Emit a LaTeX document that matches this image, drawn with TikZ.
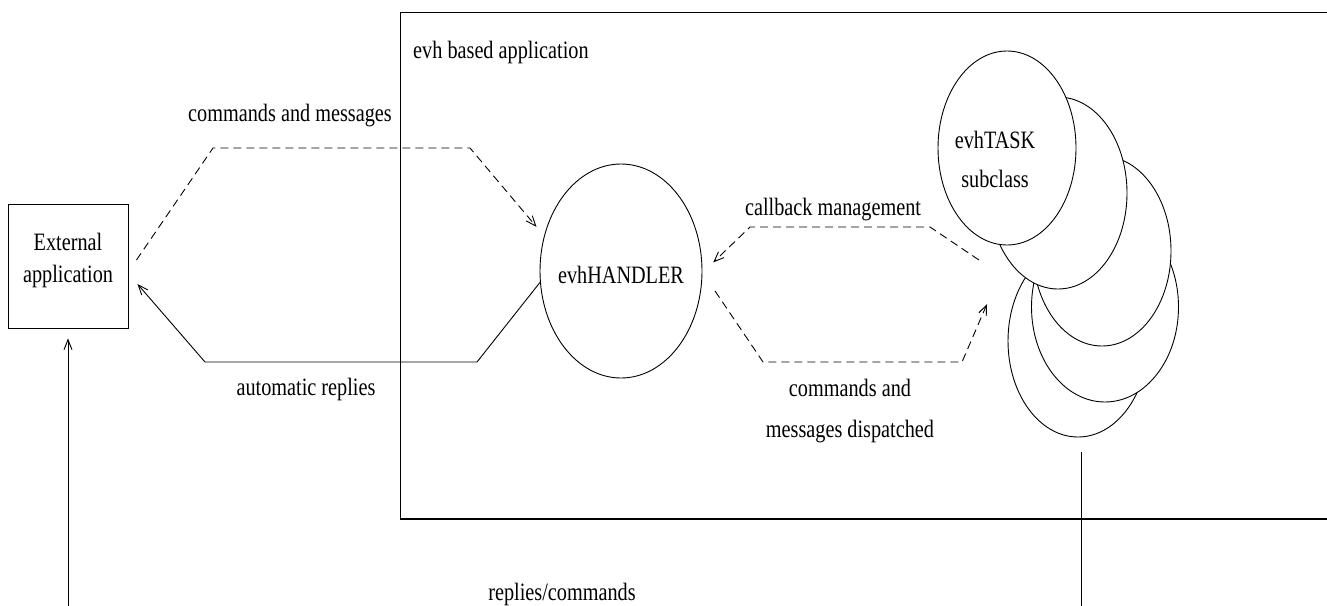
\documentclass[tikz,border=0pt]{standalone}
\usepackage{fontspec}
\setmainfont{Liberation Serif}[FakeStretch=0.81]
\usetikzlibrary{shapes.geometric,arrows.meta}

\begin{document}
\begin{tikzpicture}[x=1pt,y=-1pt,
  every node/.style={font=\fontsize{25}{30}\selectfont},
  lbl/.style={inner sep=0pt, anchor=base},
  wire/.style={line width=0.9pt, line join=miter},
  flow/.style={wire, dash pattern=on 8pt off 5pt},
  tip/.style={-{Straight Barb[length=10pt,width=8pt,line width=0.9pt]}},
  bubble/.style={ellipse, draw, fill=white, line width=0.9pt, inner sep=0pt},
  frame/.style={line width=0.9pt},
]
\useasboundingbox (0,0) rectangle (1327,605);
\clip (0,0) rectangle (1327,605);

% outer application boundary (open to the right)
\draw[frame] (1340,12) -- (400,12) -- (400,519);
\draw[frame, line width=1.6pt] (400,519) -- (1340,519);
\node[lbl, anchor=base west] (applbl) at (413,58) {evh based application};

% external application
\node[draw, line width=0.9pt, minimum width=120pt, minimum height=124pt, inner sep=0pt] (ext) at (68,266) {};
\node[lbl] (extA) at (68,250) {External};
\node[lbl] (extB) at (68,282) {application};

% event handler
\node[bubble, minimum width=162pt, minimum height=214pt] (handler) at (621,271) {};
\node[lbl] (handlerlbl) at (621,283) {evhHANDLER};

% stack of task objects, back to front
\node[bubble, minimum width=140pt, minimum height=192pt] (t5) at (1078,341) {};
\node[bubble, minimum width=147pt, minimum height=190pt] (t4) at (1105,307) {};
\node[bubble, minimum width=138pt, minimum height=190pt] (t3) at (1102,251) {};
\node[bubble, minimum width=138pt, minimum height=192pt] (t2) at (1058,193) {};
\node[bubble, minimum width=138pt, minimum height=194pt] (t1) at (1007,148) {};
\node[lbl] (taskA) at (995,148) {evhTASK};
\node[lbl] (taskB) at (995,187) {subclass};

% free ends of the connectors
\coordinate (cbStart) at (979,260);
\coordinate (dispEnd) at (987,304);
\coordinate (extFoot) at (68,610);
\coordinate (taskFoot) at (1081,452);
\coordinate (taskBottom) at (1081,610);

% commands and messages: external application -> handler
\draw[flow, tip] ([shift={(8,-6)}]ext.east) -- (213,148) -- (470,148) -- ([shift={(-9,-4)}]handler.152);
\node[lbl] (cmdlbl) at (290,121) {commands and messages};

% automatic replies: handler -> external application
\draw[wire, tip] (handler.188) -- (477,362) -- (205,362) -- ([shift={(9,18)}]ext.east);
\node[lbl] (autolbl) at (306,395) {automatic replies};

% callback management: tasks -> handler
\draw[flow, tip] (cbStart) -- (930,227) -- (750,227) -- ([xshift=11pt]handler.6);
\node[lbl] (cblbl) at (833,215) {callback management};

% dispatched commands: handler -> tasks
\draw[flow, tip] ([xshift=14pt]handler.-14) -- (763,362) -- (962,362) -- (dispEnd);
\node[lbl] (dispA) at (850,396) {commands and};
\node[lbl] (dispB) at (850,437) {messages dispatched};

% replies/commands link between tasks and the external application
\draw[wire, tip] (extFoot) -- ([yshift=-10pt]ext.south);
\draw[wire] (taskFoot) -- (taskBottom);
\node[lbl] (rclbl) at (562,600) {replies/commands};
\end{tikzpicture}
\end{document}
